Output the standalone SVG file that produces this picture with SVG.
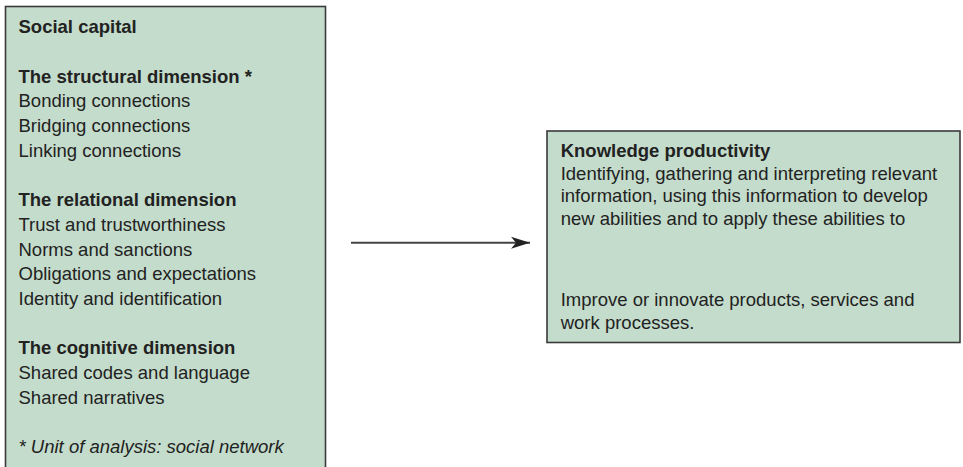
<svg xmlns="http://www.w3.org/2000/svg" width="963" height="467" viewBox="0 0 963 467">
<style>
  .box { fill: #c4dccb; stroke: #3a3a3a; stroke-width: 1.6; }
  text { font-family: "Liberation Sans", Arial, sans-serif; font-size: 18.5px; fill: #222; }
  .b { font-weight: bold; }
  .i { font-style: italic; }
  .conn { stroke: #444; stroke-width: 2; fill: none; }
</style>
<defs>
  <marker id="arrow" markerUnits="userSpaceOnUse" markerWidth="20" markerHeight="14" refX="19" refY="7" orient="auto">
    <path d="M0,1 L19,7 L0,13 L5,7 Z" fill="#222"/>
  </marker>
</defs>
<g id="social-capital">
  <rect class="box" x="5.5" y="6.5" width="320" height="470"/>
  <text x="18.5" y="33.3" class="b">Social capital</text>
  <text x="18.5" y="82.7" class="b">The structural dimension *</text>
  <text x="18.5" y="107.4">Bonding connections</text>
  <text x="18.5" y="132.1">Bridging connections</text>
  <text x="18.5" y="156.8">Linking connections</text>
  <text x="18.5" y="206.2" class="b">The relational dimension</text>
  <text x="18.5" y="230.9">Trust and trustworthiness</text>
  <text x="18.5" y="255.6">Norms and sanctions</text>
  <text x="18.5" y="280.3">Obligations and expectations</text>
  <text x="18.5" y="305">Identity and identification</text>
  <text x="18.5" y="354.4" class="b">The cognitive dimension</text>
  <text x="18.5" y="379.1">Shared codes and language</text>
  <text x="18.5" y="403.8">Shared narratives</text>
  <text x="18.5" y="453.2" class="i">* Unit of analysis: social network</text>
</g>
<g id="connectors">
  <line class="conn" x1="351" y1="242.7" x2="530" y2="242.7" marker-end="url(#arrow)"/>
</g>
<g id="knowledge-productivity">
  <rect class="box" x="547" y="131" width="413" height="211.5"/>
  <text x="560.7" y="157.3" class="b">Knowledge productivity</text>
  <text x="560.7" y="180">Identifying, gathering and interpreting relevant</text>
  <text x="560.7" y="202.3">information, using this information to develop</text>
  <text x="560.7" y="224.6">new abilities and to apply these abilities to</text>
  <text x="560.7" y="306">Improve or innovate products, services and</text>
  <text x="560.7" y="328.7">work processes.</text>
</g>
</svg>
